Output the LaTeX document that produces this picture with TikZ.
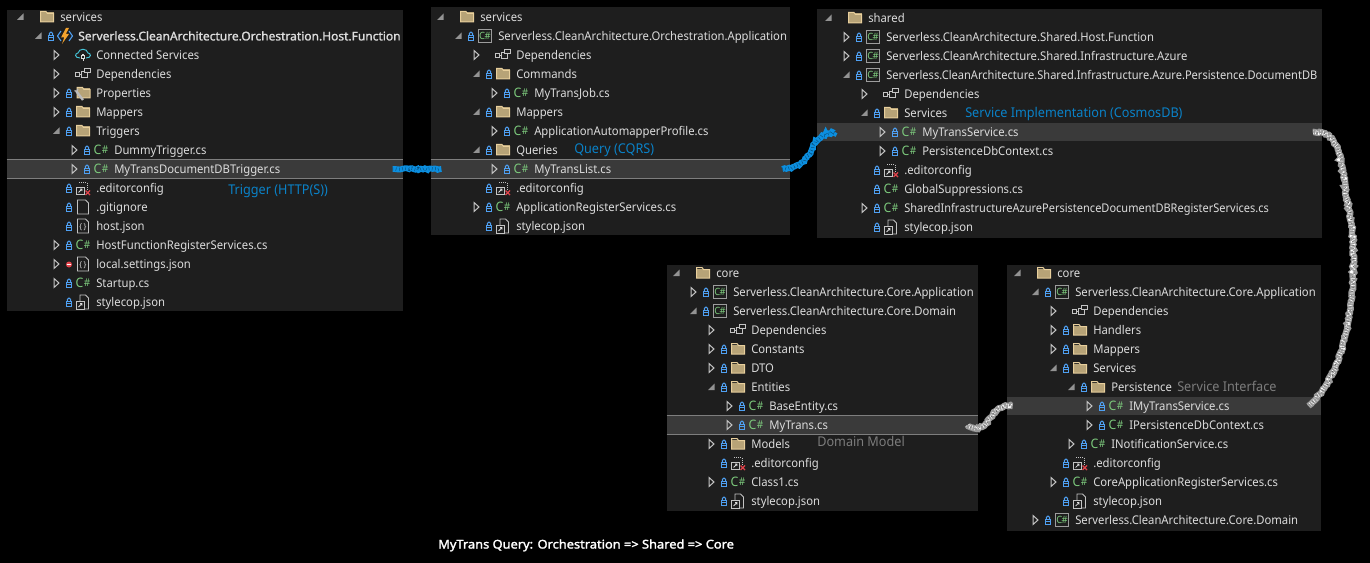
\documentclass[tikz,border=0pt]{standalone}
\usepackage{fontspec}
\setmainfont[FakeStretch=0.94]{Noto Sans}
\newfontfamily\titlefont[FakeStretch=1.0,FakeBold=1.4]{Noto Sans}
\newfontfamily\capfont[FakeStretch=1.07,FakeBold=1.9]{Noto Sans}
\usetikzlibrary{decorations.pathmorphing}
\definecolor{panelbg}{HTML}{1E1E1E}
\definecolor{rowhl}{HTML}{3A3A3A}
\definecolor{rowline}{HTML}{7E7E7E}
\definecolor{rowink}{HTML}{DCDCDC}
\definecolor{arrowink}{HTML}{C4C4C4}
\definecolor{lockblue}{HTML}{4FA0F2}
\definecolor{csgreen}{HTML}{7CC97C}
\definecolor{foldertan}{HTML}{B7A377}
\definecolor{folderedge}{HTML}{E8CF9C}
\definecolor{noteblue}{HTML}{0A82C8}
\definecolor{penblue}{HTML}{0C8FE0}
\definecolor{notegray}{HTML}{7C7C7C}
\definecolor{crossred}{HTML}{E0434B}
\definecolor{cloudteal}{HTML}{45C4D8}
\definecolor{boltorange}{HTML}{F2A22E}
\tikzset{
  rowtext/.style={anchor=base west,inner sep=0pt,text=rowink,font=\fontsize{9}{11}\selectfont},
  notetext/.style={anchor=base west,inner sep=0pt,font=\fontsize{10.1}{12}\selectfont},
  hlrow/.style={fill=rowhl,inner sep=0pt,minimum height=14pt},
  hledge/.style={draw=rowline,line width=.8pt},
  roughblue/.style={draw=penblue,line width=4.4pt,
    decoration={random steps,segment length=1.3pt,amplitude=.7pt},decorate,
    postaction={draw=penblue!55!black,line width=2.6pt,line cap=butt,dash pattern=on .35pt off 2.1pt}},
  roughgray/.style={draw=black!40,line width=4.8pt,
    decoration={random steps,segment length=1.3pt,amplitude=.7pt},decorate,
    postaction={draw=white,line width=3pt,line cap=butt,dash pattern=on .45pt off 1.5pt},
    postaction={draw=black!65,line width=1.2pt,line cap=butt,dash pattern=on .3pt off 2.7pt}},
  arrow-o/.pic={\fill[arrowink!75!black] (3,-3.5) -- (3,3) -- (-3.5,3) -- cycle;},
  arrow-c/.pic={\draw[arrowink,line width=.75pt] (-2.5,-4.5) -- (2.5,0) -- (-2.5,4.5) -- cycle;},
  arrow-n/.pic={},
  lock-y/.pic={
    \draw[lockblue,line width=.75pt] (-2.7,-.6) rectangle (2.7,4.3);
    \draw[lockblue,line width=.75pt,rounded corners=1] (-1.6,-.6) -- (-1.6,-3.8) -- (1.6,-3.8) -- (1.6,-.6);
    \fill[lockblue] (-1.8,1.3) rectangle (1.8,2.3);},
  lock-r/.pic={
    \fill[crossred] (0,.5) circle (3);
    \fill[white] (-1.8,0) rectangle (1.8,1);},
  lock-n/.pic={},
  ic-folder/.pic={
    \fill[foldertan] (-6.5,-4.5) rectangle (6.5,5);
    \draw[folderedge,line width=.75pt] (-6.5,5) -- (-6.5,-5.5) -- (-1,-5.5) -- (.5,-3.5) -- (6.5,-3.5) -- (6.5,5) -- cycle;},
  ic-tool/.pic={
    \fill[foldertan] (-6,-4.5) rectangle (7,5);
    \draw[folderedge,line width=.75pt] (-6,5) -- (-6,-5.5) -- (-.5,-5.5) -- (1,-3.5) -- (7,-3.5) -- (7,5) -- cycle;
    \draw[rowink!85!black,line width=1.8pt] (-6.5,-1.5) -- (0,7);
    \draw[rowink!85!black,line width=.9pt] (-8.5,-2.5) -- (-6.5,-1.5) -- (-5,-4);},
  ic-cs/.pic={\node[inner sep=0pt,text=csgreen,font=\fontsize{9.8}{11}\selectfont] (cs) at (0,0) {C\kern.04em\raisebox{.15ex}{\fontsize{8}{9}\selectfont\#}};},
  ic-proj/.pic={
    \draw[arrowink!80!black,line width=.7pt] (-6.5,-6.5) rectangle (6.5,6.5);
    \node[inner sep=0pt,text=csgreen,font=\fontsize{7.5}{8}\selectfont] (cs) at (0,0) {C\kern-.05em\#};},
  ic-dep/.pic={
    \draw[arrowink,line width=.6pt] (-2,-3) rectangle (4,3);
    \fill[panelbg] (1,-6) rectangle (7,-2);
    \draw[arrowink,line width=.6pt] (1,-6) rectangle (7,-2);
    \draw[arrowink,line width=.6pt] (-8,-2) rectangle (-4,2);
    \draw[arrowink,line width=.6pt] (-4,0) -- (-2,0);},
  ic-file/.pic={
    \draw[arrowink,line width=.7pt] (-5.5,-7) -- (2.5,-7) -- (5.5,-4) -- (5.5,7) -- (-5.5,7) -- cycle;},
  ic-json/.pic={
    \draw[arrowink,line width=.7pt] (-5.5,-7) -- (2.5,-7) -- (5.5,-4) -- (5.5,7) -- (-5.5,7) -- cycle;
    \node[inner sep=0pt,text=rowink,font=\fontsize{6}{7}\selectfont] (js) at (0,1.5) {\{\,\}};},
  ic-cfg/.pic={
    \draw[arrowink,line width=.6pt,densely dotted] (-4,-6) -- (4,-6) -- (4,1);
    \draw[arrowink,line width=.7pt] (-6.5,-1) rectangle (1,6.5);
    \draw[rowink,line width=.55pt] (-4.5,4.5) -- (-1,1) (-3,1) -- (-1,1) -- (-1,3);
    \draw[crossred,line width=.85pt] (2.5,2.5) -- (7,7) (2.5,7) -- (7,2.5);},
  ic-style/.pic={
    \draw[arrowink,line width=.65pt] (-3,-1) -- (-3,-7) -- (2.5,-7) -- (5.5,-4) -- (5.5,7) -- (1,7);
    \draw[arrowink,line width=.65pt] (-6.5,-1) rectangle (1,7);
    \draw[rowink,line width=.55pt] (-4.5,5) -- (-1,1.5) (-3,1.5) -- (-1,1.5) -- (-1,3.5);},
  ic-cloud/.pic={
    \draw[cloudteal,line width=.7pt] (-3,3) .. controls (-9,3) and (-8,-2) .. (-5,-2) .. controls (-4,-7) and (4,-7) .. (5,-2) .. controls (8,-2) and (9,3) .. (3,3);
    \draw[rowink,line width=.65pt] (-1.6,.5) rectangle (1.6,3.5) (0,3.5) -- (0,6.5) (-.9,-1.2) -- (-.9,.5) (.9,-1.2) -- (.9,.5);},
  ic-func/.pic={
    \draw[lockblue,line width=.8pt] (-4,-5) -- (-7.5,0) -- (-4,5) (4,-5) -- (7.5,0) -- (4,5);
    \fill[boltorange] (1,-8) -- (-4,1.5) -- (-.8,1.5) -- (-3,8) -- (4,-2) -- (.8,-2) -- (4,-8) -- cycle;}
}
\newcommand\treerows[3]{%
  \foreach \tx/\ar/\lk/\ic/\lab [count=\i from 0] in {#3} {
    \pgfmathsetmacro\ry{#2+19*\i}
    \pic at (\tx-39.5,\ry) {arrow-\ar};
    \pic at (\tx-27,\ry) {lock-\lk};
    \pic (#1\i i) at (\tx-13,\ry) {ic-\ic};
    \node[rowtext] (#1\i) at (\tx,\ry+4.4) {\lab};
  }}

\begin{document}
\begin{tikzpicture}[x=.75pt,y=-.75pt]
  \fill[black] (0,0) rectangle (1370,563);
  \useasboundingbox (0,0) rectangle (1370,563);
  \pgfmathsetseed{11}
  \fill[panelbg] (7,10) rectangle (403,311);
  \fill[panelbg] (431,7) rectangle (790,235);
  \fill[panelbg] (817,9) rectangle (1322,238);
  \fill[panelbg] (667,265) rectangle (978,511);
  \fill[panelbg] (1007,265) rectangle (1321,531);
  \node[hlrow,minimum width=297pt] (hltrigger) at (205,169) {};
  \node[hlrow,minimum width=269.25pt] (hllist) at (610.5,169) {};
  \node[hlrow,minimum width=378.75pt] (hlservice) at (1069.5,132) {};
  \node[hlrow,minimum width=233.25pt] (hlentity) at (822.5,425) {};
  \node[hlrow,minimum width=235.5pt] (hlcontract) at (1164,406) {};
  \draw[hledge] (hltrigger.north west) -- (hltrigger.north east) (hltrigger.south west) -- (hltrigger.south east);
  \draw[hledge] (hllist.north west) -- (hllist.north east) (hllist.south west) -- (hllist.south east);
  \draw[hledge] (hlentity.north west) -- (hlentity.north east) (hlentity.south west) -- (hlentity.south east);

  \treerows{host}{17}{
    60/o/n/folder/services,
    78/o/y/func/{\titlefont Serverless.CleanArchitecture.Orchestration.Host.Function},
    96/c/n/cloud/Connected Services,
    96/c/n/dep/Dependencies,
    96/c/y/tool/Properties,
    96/c/y/folder/Mappers,
    96/o/y/folder/Triggers,
    114/c/y/cs/DummyTrigger.cs,
    114/c/y/cs/MyTransDocumentDBTrigger.cs,
    96/n/y/cfg/.editorconfig,
    96/n/y/file/.gitignore,
    96/n/y/json/host.json,
    96/c/y/cs/HostFunctionRegisterServices.cs,
    96/c/r/json/local.settings.json,
    96/c/y/cs/Startup.cs,
    96/n/y/style/stylecop.json}
  \treerows{orch}{17}{
    480/o/n/folder/services,
    498/o/y/proj/Serverless.CleanArchitecture.Orchestration.Application,
    516/c/n/dep/Dependencies,
    516/o/y/folder/Commands,
    534/c/y/cs/MyTransJob.cs,
    516/o/y/folder/Mappers,
    534/c/y/cs/ApplicationAutomapperProfile.cs,
    516/o/y/folder/Queries,
    534/c/y/cs/MyTransList.cs,
    516/n/y/cfg/.editorconfig,
    516/c/y/cs/ApplicationRegisterServices.cs,
    516/n/y/style/stylecop.json}
  \treerows{shrd}{18}{
    868/o/n/folder/shared,
    886/c/y/proj/Serverless.CleanArchitecture.Shared.Host.Function,
    886/c/y/proj/Serverless.CleanArchitecture.Shared.Infrastructure.Azure,
    886/o/y/proj/\scalebox{.982}[1]{Serverless.CleanArchitecture.Shared.Infrastructure.Azure.Persistence.DocumentDB},
    904/c/n/dep/Dependencies,
    904/o/y/folder/Services,
    922/c/y/cs/MyTransService.cs,
    922/c/y/cs/PersistenceDbContext.cs,
    904/n/y/cfg/.editorconfig,
    904/n/y/cs/GlobalSuppressions.cs,
    904/c/y/cs/\scalebox{.976}[1]{SharedInfrastructureAzurePersistenceDocumentDBRegisterServices.cs},
    904/n/y/style/stylecop.json}
  \treerows{dom}{273}{
    716/o/n/folder/core,
    733/c/y/proj/Serverless.CleanArchitecture.Core.Application,
    733/o/y/proj/Serverless.CleanArchitecture.Core.Domain,
    751/c/n/dep/Dependencies,
    751/c/y/folder/Constants,
    751/c/y/folder/DTO,
    751/o/y/folder/Entities,
    769/c/y/cs/BaseEntity.cs,
    769/c/y/cs/MyTrans.cs,
    751/c/y/folder/Models,
    751/n/y/cfg/.editorconfig,
    751/c/y/cs/Class1.cs,
    751/n/y/style/stylecop.json}
  \treerows{app}{273}{
    1057/o/n/folder/core,
    1075/o/y/proj/Serverless.CleanArchitecture.Core.Application,
    1093/c/n/dep/Dependencies,
    1093/c/y/folder/Handlers,
    1093/c/y/folder/Mappers,
    1093/o/y/folder/Services,
    1111/o/y/folder/Persistence,
    1129/c/y/cs/IMyTransService.cs,
    1129/c/y/cs/IPersistenceDbContext.cs,
    1111/c/y/cs/INotificationService.cs,
    1093/n/y/cfg/.editorconfig,
    1093/c/y/cs/CoreApplicationRegisterServices.cs,
    1093/n/y/style/stylecop.json,
    1075/c/y/proj/Serverless.CleanArchitecture.Core.Domain}

  \node[notetext,text=noteblue] (lbtrigger) at (228,194.5) {Trigger (HTTP(S))};
  \node[notetext,text=noteblue] (lbquery) at (574,153.5) {Query (CQRS)};
  \node[notetext,text=noteblue] (lbimpl) at (965,117.5) {Service Implementation (CosmosDB)};
  \node[notetext,text=notegray] (lbmodel) at (817,446.5) {Domain Model};
  \node[notetext,text=notegray] (lbiface) at (1177,391.5) {Service Interface};
  \node[anchor=base west,inner sep=0pt,text=white,font=\capfont\fontsize{9}{11}\selectfont] (caption) at (438,548.5) {MyTrans Query: Orchestration => Shared => Core};

  \draw[roughblue] ([xshift=-8pt]hltrigger.east) -- ([xshift=8pt]hllist.west);
  \draw[roughblue] ([xshift=-6pt]hllist.east) .. controls (802,168) and (808,158) .. (813,146) .. controls (817,137) and (825,134) .. ([xshift=13.5pt]hlservice.west);
  \draw[roughgray] ([xshift=-7pt]hlservice.east) .. controls (1345,130) and (1340,170) .. (1350,215) .. controls (1358,260) and (1352,330) .. (1335,368) .. controls (1325,390) and (1315,400) .. ([xshift=-9.5pt]hlcontract.east);
  \draw[roughgray] ([xshift=-8pt]hlentity.east) .. controls (982,432) and (985,425) .. (993,414) .. controls (998,408) and (1005,405) .. ([xshift=4.5pt]hlcontract.west);
\end{tikzpicture}
\end{document}
